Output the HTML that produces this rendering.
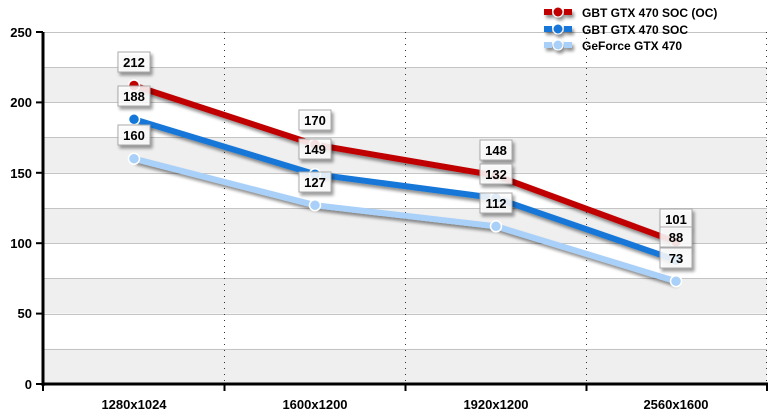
<!DOCTYPE html><html><head><style>body{margin:0;background:#fff}svg{display:block;font-family:"Liberation Sans",Arial,sans-serif;font-weight:bold}</style></head><body>
<svg width="771" height="418" viewBox="0 0 771 418">
<defs><filter id="sh" x="-20%" y="-50%" width="150%" height="250%"><feGaussianBlur in="SourceAlpha" stdDeviation="1.5"/><feOffset dx="2" dy="3"/><feComponentTransfer><feFuncA type="linear" slope="0.45"/></feComponentTransfer><feMerge><feMergeNode/><feMergeNode in="SourceGraphic"/></feMerge></filter></defs>
<g fill="#efefef">
<rect x="43" y="348.8" width="724" height="35.2"/><rect x="43" y="278.4" width="724" height="35.2"/><rect x="43" y="208" width="724" height="35.2"/><rect x="43" y="137.6" width="724" height="35.2"/><rect x="43" y="67.2" width="724" height="35.2"/>
</g>
<g stroke="#c4c4c4" stroke-width="1">
<line x1="43" x2="767" y1="32.5" y2="32.5"/><line x1="43" x2="767" y1="67.5" y2="67.5"/><line x1="43" x2="767" y1="102.5" y2="102.5"/><line x1="43" x2="767" y1="137.5" y2="137.5"/><line x1="43" x2="767" y1="173.5" y2="173.5"/><line x1="43" x2="767" y1="208.5" y2="208.5"/><line x1="43" x2="767" y1="243.5" y2="243.5"/><line x1="43" x2="767" y1="278.5" y2="278.5"/><line x1="43" x2="767" y1="314.5" y2="314.5"/><line x1="43" x2="767" y1="349.5" y2="349.5"/>
</g>
<g stroke="#333" stroke-dasharray="1,5"><line x1="224.5" x2="224.5" y1="32" y2="384"/><line x1="405.5" x2="405.5" y1="32" y2="384"/><line x1="586.5" x2="586.5" y1="32" y2="384"/><line x1="766.5" x2="766.5" y1="32" y2="384"/></g>
<g stroke="#000" stroke-width="3"><line x1="43" x2="43" y1="32" y2="386"/><line x1="42" x2="768" y1="384" y2="384"/></g>
<g stroke="#000" stroke-width="2"><line x1="36" x2="43" y1="32" y2="32"/><line x1="36" x2="43" y1="102.4" y2="102.4"/><line x1="36" x2="43" y1="172.8" y2="172.8"/><line x1="36" x2="43" y1="243.2" y2="243.2"/><line x1="36" x2="43" y1="313.6" y2="313.6"/><line x1="36" x2="43" y1="384" y2="384"/>
<line x1="224.5" x2="224.5" y1="384" y2="391"/><line x1="405.5" x2="405.5" y1="384" y2="391"/><line x1="586.5" x2="586.5" y1="384" y2="391"/><line x1="767" x2="767" y1="384" y2="391"/><line x1="43" x2="43" y1="384" y2="391"/></g>
<g font-size="13" text-anchor="end"><text x="32" y="37">250</text><text x="32" y="107">200</text><text x="32" y="178">150</text><text x="32" y="248">100</text><text x="32" y="318">50</text><text x="32" y="389">0</text></g>
<g font-size="13" text-anchor="middle"><text x="134" y="409">1280x1024</text><text x="315" y="409">1600x1200</text><text x="496" y="409">1920x1200</text><text x="676" y="409">2560x1600</text></g>
<g filter="url(#sh)" fill="none" stroke-width="6" stroke-linejoin="round">
<polyline stroke="#a8d0f8" points="134,158.7 315,205.2 496,226.3 676,281.2"/>
<polyline stroke="#1277d8" points="134,119.3 315,174.2 496,198.1 676,260.1"/>
<polyline stroke="#c00000" points="134,85.5 315,144.6 496,175.6 676,241.8"/>
</g>
<g stroke="#fff" stroke-width="1.5">
<circle cx="134" cy="158.7" r="5.5" fill="#a8d0f8"/><circle cx="315" cy="205.2" r="5.5" fill="#a8d0f8"/><circle cx="496" cy="226.3" r="5.5" fill="#a8d0f8"/><circle cx="676" cy="281.2" r="5.5" fill="#a8d0f8"/>
<circle cx="134" cy="119.3" r="5.5" fill="#1277d8"/><circle cx="315" cy="174.2" r="5.5" fill="#1277d8"/><circle cx="496" cy="198.1" r="5.5" fill="#1277d8"/><circle cx="676" cy="260.1" r="5.5" fill="#1277d8"/>
<circle cx="134" cy="85.5" r="5.5" fill="#c00000"/><circle cx="315" cy="144.6" r="5.5" fill="#c00000"/><circle cx="496" cy="175.6" r="5.5" fill="#c00000"/><circle cx="676" cy="241.8" r="5.5" fill="#c00000"/>
</g>
<g font-size="13" text-anchor="middle">
<g filter="url(#sh)" fill="#fff" fill-opacity="0.85" stroke="#aaa">
<rect x="118" y="52" width="32" height="20"/><rect x="118" y="86" width="32" height="20"/><rect x="118" y="125" width="32" height="20"/>
<rect x="299" y="110" width="32" height="20"/><rect x="299" y="139" width="32" height="20"/><rect x="299" y="172" width="32" height="20"/>
<rect x="480" y="140" width="32" height="20"/><rect x="480" y="164" width="32" height="20"/><rect x="480" y="193" width="32" height="20"/>
<rect x="660" y="209" width="32" height="20"/><rect x="660" y="227" width="32" height="20"/><rect x="660" y="248" width="32" height="20"/>
</g>
<text x="134" y="67">212</text><text x="134" y="101">188</text><text x="134" y="140">160</text>
<text x="315" y="125">170</text><text x="315" y="154">149</text><text x="315" y="187">127</text>
<text x="496" y="155">148</text><text x="496" y="179">132</text><text x="496" y="208">112</text>
<text x="676" y="224">101</text><text x="676" y="242">88</text><text x="676" y="263">73</text>
</g>
<g filter="url(#sh)">
<line x1="544" x2="572" y1="12" y2="12" stroke="#c00000" stroke-width="6" stroke-dasharray="8,2"/><circle cx="558" cy="12" r="5" fill="#c00000" stroke="#fff"/>
<line x1="544" x2="572" y1="29" y2="29" stroke="#1277d8" stroke-width="6" stroke-dasharray="8,2"/><circle cx="558" cy="29" r="5" fill="#1277d8" stroke="#fff"/>
<line x1="544" x2="572" y1="45" y2="45" stroke="#a8d0f8" stroke-width="6" stroke-dasharray="8,2"/><circle cx="558" cy="45" r="5" fill="#a8d0f8" stroke="#fff"/>
</g>
<g font-size="12"><text x="582" y="17">GBT GTX 470 SOC (OC)</text><text x="582" y="34">GBT GTX 470 SOC</text><text x="582" y="50">GeForce GTX 470</text></g>
</svg></body></html>
